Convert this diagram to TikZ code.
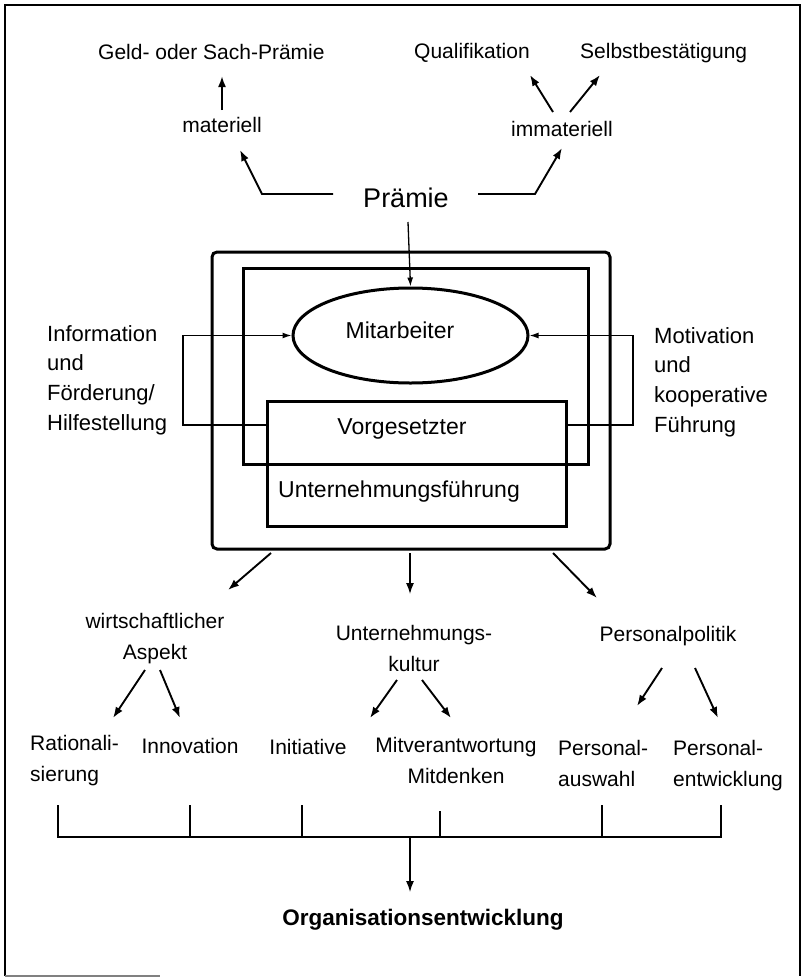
\documentclass[tikz,border=0pt]{standalone}
\usepackage{fontspec}
\setmainfont{Liberation Sans}
\usetikzlibrary{arrows.meta,shapes.geometric,calc}
\begin{document}
\begin{tikzpicture}[x=1pt,y=-1pt,
  lbl/.style={inner sep=0pt,font=\fontsize{21}{31}\selectfont},
  side/.style={inner sep=0pt,font=\fontsize{22}{29.7}\selectfont},
  big/.style={inner sep=0pt,font=\fontsize{23}{28}\selectfont},
  boxline/.style={draw,line width=3pt},
  arr/.style={line width=1.9pt,-{Latex[length=11pt,width=8pt]}},
  thinarr/.style={line width=1.3pt,-{Latex[length=9pt,width=6pt]}},
  bracket/.style={line width=1.9pt}]
\useasboundingbox (0,0) rectangle (805,980);

% page frame
\draw[line width=1.5pt] (5,976) -- (5,5) -- (800,5) -- (800,976);
\draw[line width=1.5pt,gray] (5,976) -- (160,976);

% ---------- premium tree ----------
\node[lbl,anchor=base west] (geld) at (98,59) {Geld- oder Sach-Prämie};
\node[lbl,anchor=base west] (quali) at (414,58) {Qualifikation};
\node[lbl,anchor=base west] (selbst) at (580,58) {Selbstbestätigung};
\node[lbl,anchor=base] (mat) at (222,132) {materiell};
\node[lbl,anchor=base] (immat) at (562,136) {immateriell};
\node[inner sep=0pt,font=\fontsize{27}{31}\selectfont,anchor=base] (praemie) at (406,207) {Prämie};

\coordinate (matOut) at (222,110);
\coordinate (geldIn) at (222,76);
\draw[arr] (matOut) -- (geldIn);

\coordinate (immatOutL) at (553,112);
\coordinate (immatOutR) at (570,112);
\coordinate (qualiIn) at (530,75);
\coordinate (selbstIn) at (600,75);
\draw[arr] (immatOutL) -- (qualiIn);
\draw[arr] (immatOutR) -- (selbstIn);

\coordinate (prL) at (333,194);
\coordinate (prLbend) at (262,194);
\coordinate (matIn) at (240,150);
\draw[arr] (prL) -- (prLbend) -- (matIn);
\coordinate (prR) at (478,194);
\coordinate (prRbend) at (535,194);
\coordinate (immatIn) at (562,148);
\draw[arr] (prR) -- (prRbend) -- (immatIn);

% ---------- company core ----------
\node[boxline,rounded corners=5pt,minimum width=398pt,minimum height=297pt,inner sep=0pt] (outer) at (411,400.5) {};
\node[boxline,minimum width=345pt,minimum height=196pt,inner sep=0pt] (frame) at (415.5,366) {};
\node[boxline,ellipse,minimum width=235pt,minimum height=95pt,inner sep=0pt] (mit) at (410.5,335.5) {};
\node[big,anchor=base] (mittext) at (400,338) {Mitarbeiter};
\node[boxline,minimum width=299pt,minimum height=125pt,inner sep=0pt] (chef) at (416.5,463.5) {};
\node[big,anchor=base] (vorg) at (402,434) {Vorgesetzter};
\node[big,anchor=base] (ufuehr) at (399,497) {Unternehmungsführung};

\coordinate (pTop) at (408,222);
\draw[thinarr] (pTop) -- (mit.north);

\coordinate (loopL) at (183,425);
\coordinate (loopR) at (633,425);
\draw[thinarr] (chef.west |- loopL) -- (loopL) |- (mit.west);
\draw[thinarr] (chef.east |- loopR) -- (loopR) |- (mit.east);

\node[side,anchor=north west,align=left] (info) at (47,325)
  {Information\\und\\Förderung/\\Hilfestellung};
\node[side,anchor=north west,align=left] (motiv) at (654,327)
  {Motivation\\und\\kooperative\\Führung};

% ---------- three aspects ----------
\node[lbl,anchor=north,align=center] (wirt) at (155,613) {wirtschaftlicher\\Aspekt};
\node[lbl,anchor=north,align=center] (kultur) at (414,625) {Unternehmungs-\\kultur};
\node[lbl,anchor=north] (perspol) at (668,626) {Personalpolitik};

\coordinate (oL) at (271,553);
\coordinate (oM) at (410,553);
\coordinate (oR) at (553,553);
\coordinate (wirtIn) at (228,590);
\coordinate (kulturIn) at (410,594);
\coordinate (perspolIn) at (597,598);
\draw[arr] (oL) -- (wirtIn);
\draw[arr,line width=1.3pt] (oM) -- (kulturIn);
\draw[arr] (oR) -- (perspolIn);

% ---------- measures ----------
\node[lbl,anchor=north west,align=left] (ratio) at (30,735) {Rationali-\\sierung};
\node[lbl,anchor=north] (innov) at (190,738) {Innovation};
\node[lbl,anchor=north] (initi) at (308,739) {Initiative};
\node[lbl,anchor=north,align=center] (mitv) at (456,737) {Mitverantwortung\\Mitdenken};
\node[lbl,anchor=north west,align=left] (pausw) at (558,740) {Personal-\\auswahl};
\node[lbl,anchor=north west,align=left] (pentw) at (673,740) {Personal-\\entwicklung};

\coordinate (wA) at (145,670);
\coordinate (wB) at (160,670);
\draw[arr] (wA) -- (113,718) coordinate (ratioIn);
\draw[arr] (wB) -- (180,718) coordinate (innovIn);
\coordinate (kA) at (397,680);
\coordinate (kB) at (422,680);
\draw[arr] (kA) -- (370,718) coordinate (initIn);
\draw[arr] (kB) -- (451,718) coordinate (mitvIn);
\coordinate (pA) at (662,668);
\coordinate (pB) at (695,668);
\draw[arr] (pA) -- (637,706) coordinate (pauswIn);
\draw[arr] (pB) -- (718,718) coordinate (pentwIn);

% ---------- collecting bracket ----------
\coordinate (bL) at (58,837);
\coordinate (bR) at (721,837);
\draw[bracket] (58,805) -- (bL) -- (bR) -- (721,805);
\foreach \tx/\ty in {190/805, 302/805, 440/811, 602/805}
  \draw[bracket] (\tx,\ty) -- (\tx,837);

\node[inner sep=0pt,font=\bfseries\fontsize{22.5}{27}\selectfont,anchor=north] (org) at (423,909) {Organisationsentwicklung};
\coordinate (bMid) at (410,837);
\draw[arr,line width=1.3pt] (bMid) -- (bMid |- 0,892) coordinate (orgIn);

\end{tikzpicture}
\end{document}
